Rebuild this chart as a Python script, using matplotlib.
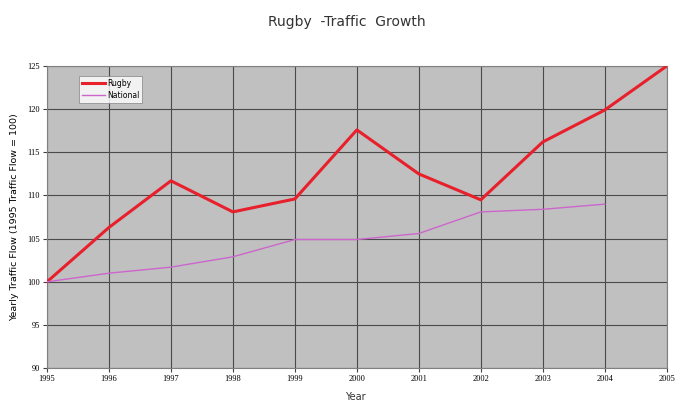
import numpy as np
import matplotlib.pyplot as plt

years = [1995, 1996, 1997, 1998, 1999, 2000, 2001, 2002, 2003, 2004, 2005]
rugby = [100, 106.3, 111.7, 108.1, 109.6, 117.6, 112.5, 109.5, 116.2, 119.9, 125]
nat_years = [1995, 1996, 1997, 1998, 1999, 2000, 2001, 2002, 2003, 2004]
national = [100, 101.0, 101.7, 102.9, 104.9, 104.9, 105.6, 108.1, 108.4, 109.0]

fig = plt.figure(figsize=(6.81, 4.05), dpi=100)
ax = fig.add_axes([0.069, 0.091, 0.910, 0.746])
ax.set_facecolor('#c0c0c0')

ax.plot(years, rugby, color='#e8202c', lw=2.2, label='Rugby', zorder=3)
ax.plot(nat_years, national, color='#cc66cc', lw=1.0, label='National', zorder=3)

ax.set_xlim(1995, 2005)
ax.set_ylim(90, 125)
ax.set_xticks(years)
ax.set_yticks(np.arange(90, 126, 5))
ax.grid(True, color='#4a4a4a', lw=0.8)
ax.set_axisbelow(True)
for s in ax.spines.values():
    s.set_color('#808080')
    s.set_linewidth(0.8)
ax.tick_params(labelsize=6, length=3, color='#404040', pad=2)
for lab in ax.get_xticklabels() + ax.get_yticklabels():
    lab.set_family('Liberation Serif')

ax.set_ylabel('Yearly Traffic Flow (1995 Traffic Flow = 100)', fontsize=6.8, labelpad=6)
fig.text(0.522, 0.02, 'Year', ha='center', va='center', fontsize=7, color='#333333')

leg = ax.legend(loc='upper left', bbox_to_anchor=(0.045, 0.98), fontsize=5.5,
                frameon=True, fancybox=False, handlelength=3, borderpad=0.4,
                labelspacing=0.4, handletextpad=0.3)
leg.get_frame().set_edgecolor('#808080')
leg.get_frame().set_linewidth(0.6)

fig.text(0.509, 0.945, 'Rugby  -Traffic  Growth', ha='center', va='center',
         fontsize=10, color='#333333')

fig.savefig('out.png', dpi=100)
